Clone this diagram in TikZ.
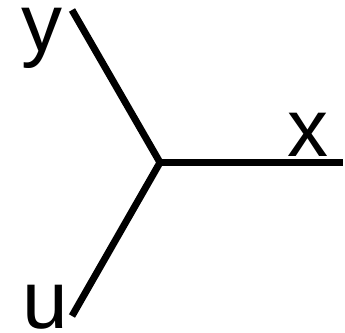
\documentclass[tikz,border=0pt]{standalone}
\usepackage{fontspec}
\setmainfont{Liberation Sans}
\begin{document}
\begin{tikzpicture}[x=1pt,y=1pt,
  arm/.style={line width=7pt},
  lbl/.style={inner sep=0pt,anchor=base west,font=\fontsize{82}{82}\selectfont}]
\useasboundingbox (0,0) rectangle (345,332);
\coordinate (c) at (160,169.5);
\coordinate (ey) at (72,322);
\coordinate (ex) at (343,169.5);
\coordinate (eu) at (72,16);
\draw[arm] (c) -- (ey);
\draw[arm] (c) -- (ex);
\draw[arm] (c) -- (eu);
\node[lbl] (ly) at (21,280) {y};
\node[lbl] (lx) at (287,175) {x};
\node[lbl] (lu) at (22,4) {u};
\end{tikzpicture}
\end{document}
